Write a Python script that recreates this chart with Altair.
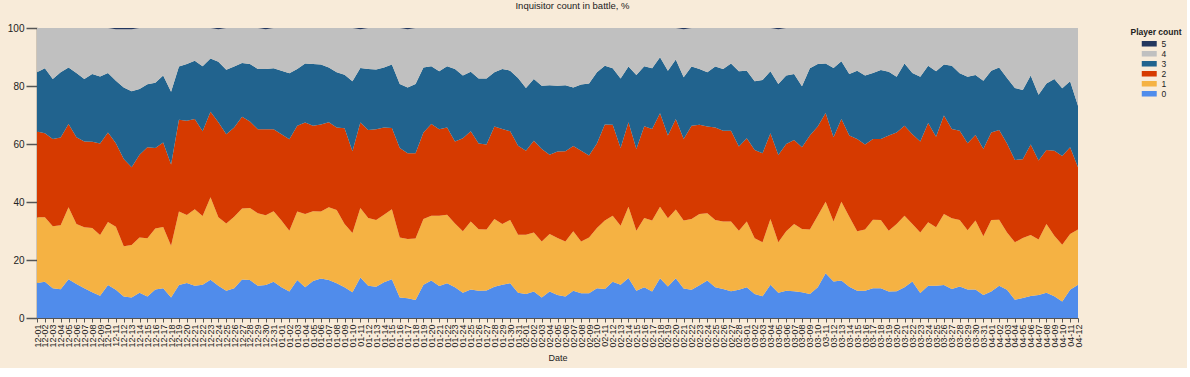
import altair as alt
import pandas as pd

# Dates (daily, Dec 1 – Apr 12)
dates = [d.strftime("%m-%d") for d in pd.date_range("2014-12-01", "2015-04-12", freq="D")]

# Cumulative upper edge (in %) of each stacked band
top_0 = [12.1, 12.5, 10.3, 9.9, 13.4, 11.7, 10.3, 8.9, 7.7, 11.4, 9.7, 7.4, 7.1, 8.7, 7.4, 9.8, 10.3, 7.1, 11.4, 12.1, 11.1, 11.5, 13.2, 11.1, 9.4, 10.3, 13.3,
         13.1, 11.1, 11.4, 12.5, 10.6, 9.1, 13.1, 10.6, 12.8, 13.6, 13.1, 12.0, 10.6, 8.9, 14.0, 11.1, 10.8, 12.3, 13.4, 7.1, 6.8, 6.2, 11.5, 12.9, 11.0, 12.0, 10.6,
         8.7, 9.8, 9.4, 9.5, 10.8, 11.5, 12.0, 8.7, 8.3, 9.1, 7.1, 9.1, 7.9, 7.4, 9.4, 8.5, 8.5, 10.3, 10.0, 12.5, 11.5, 13.8, 9.4, 10.6, 9.1, 13.7,
         10.9, 13.7, 10.2, 9.7, 11.3, 12.9, 10.6, 10.0, 9.2, 9.7, 10.6, 8.3, 7.5, 11.5, 8.7, 9.4, 9.2, 8.9, 8.3, 10.6, 15.4, 12.6, 12.9, 10.8, 9.4, 9.4,
         10.3, 10.3, 9.1, 9.2, 10.6, 12.6, 8.6, 11.1, 11.1, 11.4, 10.0, 10.9, 9.8, 9.8, 7.9, 9.1, 11.1, 9.7, 6.3, 6.9, 7.6, 7.9, 8.7, 7.5, 5.7, 9.7, 11.5]

top_1 = [34.7, 34.7, 31.6, 32.0, 38.2, 32.4, 31.3, 31.0, 28.6, 33.1, 31.5, 24.7, 25.2, 27.8, 27.5, 30.9, 31.4, 24.9, 36.7, 35.5, 37.5, 35.2, 41.6, 34.7, 32.6, 34.9, 37.8,
         37.9, 36.1, 35.4, 36.8, 33.6, 30.1, 36.7, 35.9, 36.8, 36.7, 38.2, 37.2, 32.4, 29.3, 37.9, 34.5, 33.8, 35.6, 37.5, 27.8, 27.2, 27.4, 34.1, 35.3, 35.3, 35.6, 32.6,
         29.9, 33.3, 30.6, 30.5, 34.1, 32.4, 33.8, 28.7, 28.7, 29.5, 26.4, 29.0, 27.6, 26.4, 29.9, 26.4, 27.8, 31.0, 33.6, 35.3, 31.8, 38.4, 30.1, 34.5, 33.6, 38.4,
         34.4, 37.4, 33.6, 34.1, 35.9, 36.1, 33.8, 33.3, 33.3, 30.1, 33.3, 27.5, 26.1, 34.1, 26.1, 29.9, 32.4, 30.7, 30.5, 35.3, 40.1, 33.3, 40.1, 34.9, 29.9, 30.5,
         33.9, 33.8, 30.1, 32.4, 35.3, 32.4, 29.5, 33.0, 31.3, 35.9, 34.4, 33.8, 30.3, 33.6, 28.2, 33.8, 33.9, 29.5, 26.1, 27.6, 28.6, 27.1, 32.4, 28.4, 25.3, 29.0, 30.5]

top_2 = [64.3, 63.7, 61.7, 62.2, 66.9, 62.3, 60.9, 60.8, 60.2, 64.0, 60.3, 54.8, 52.0, 56.3, 58.9, 58.6, 60.5, 52.9, 68.4, 68.0, 68.6, 64.4, 71.1, 67.5, 63.4, 65.7, 69.4,
         67.8, 65.1, 65.1, 65.1, 63.4, 61.6, 66.3, 67.4, 66.3, 66.7, 67.5, 65.7, 65.4, 57.5, 67.4, 64.8, 65.1, 65.7, 65.5, 58.6, 56.8, 56.8, 64.0, 66.9, 65.1, 65.7, 60.9,
         62.0, 64.4, 60.2, 59.8, 66.0, 65.2, 64.4, 59.4, 57.7, 61.1, 58.3, 56.3, 57.4, 57.5, 59.3, 57.7, 56.0, 60.2, 66.7, 66.6, 58.6, 67.5, 58.3, 66.1, 65.2, 70.6,
         62.9, 68.6, 61.7, 66.3, 66.6, 66.0, 65.7, 64.6, 64.6, 59.1, 62.0, 57.9, 56.8, 63.7, 56.2, 60.0, 61.4, 58.9, 62.9, 66.0, 70.7, 62.3, 68.6, 62.9, 61.7, 59.8,
         61.7, 61.7, 62.9, 64.0, 66.3, 63.4, 60.9, 67.2, 62.5, 69.8, 65.2, 64.6, 60.3, 63.1, 58.3, 64.0, 64.8, 60.2, 54.5, 54.7, 59.8, 54.3, 57.9, 57.7, 55.9, 58.9, 52.0]

top_3 = [84.7, 86.1, 82.4, 84.7, 86.4, 84.5, 82.4, 84.1, 83.3, 84.5, 81.8, 79.5, 78.2, 79.0, 80.6, 81.1, 83.6, 78.0, 86.7, 87.6, 88.7, 86.8, 89.5, 88.4, 85.6, 86.7, 87.9,
         87.6, 85.9, 85.9, 86.1, 85.3, 84.4, 85.9, 87.8, 87.6, 87.4, 86.4, 84.7, 83.9, 81.6, 86.2, 85.9, 85.7, 86.4, 87.4, 80.7, 79.5, 80.7, 86.4, 86.8, 85.1, 86.8, 85.9,
         83.6, 84.9, 82.6, 82.6, 84.7, 85.9, 85.3, 82.8, 79.3, 82.4, 80.1, 80.3, 80.1, 80.3, 79.5, 80.5, 80.9, 84.7, 87.0, 86.1, 82.6, 86.7, 83.8, 86.8, 86.1, 89.9,
         85.3, 89.1, 83.0, 86.7, 85.9, 84.7, 86.7, 85.9, 87.8, 85.1, 85.3, 81.6, 82.1, 85.1, 80.7, 83.6, 84.1, 79.9, 86.1, 87.6, 87.8, 86.2, 88.5, 84.1, 85.3, 83.6,
         84.5, 85.5, 84.9, 83.2, 87.8, 84.5, 83.2, 87.0, 85.1, 87.4, 87.0, 84.4, 83.2, 83.8, 81.8, 85.3, 86.4, 82.8, 79.3, 78.6, 83.6, 77.0, 80.9, 82.4, 79.2, 81.6, 73.2]

# Share (%) of battles with 5 players (thin band at the very top)
share_5 = [0.0] * len(dates)
for idx in [10, 11, 12, 23, 29, 41, 47, 82, 94]:
    share_5[idx] = 0.4

series_names = ["5", "4", "3", "2", "1", "0"]
series_colors = ["#23375F", "#C0C0C0", "#21638E", "#D63A00", "#F5B243", "#508CEB"]

rows = []
for i, d in enumerate(dates):
    edges = [0.0, top_0[i], top_1[i], top_2[i], top_3[i], 100.0 - share_5[i], 100.0]
    for k in range(6):
        rows.append({"date": d, "series": str(k), "lower": edges[k], "upper": edges[k + 1]})
df = pd.DataFrame(rows)

FONT = "Liberation Sans"

chart = alt.Chart(df).mark_area(opacity=1, interpolate="linear").encode(
    x=alt.X("date:O", sort=dates, scale=alt.Scale(padding=0),
            axis=alt.Axis(title="Date", labelAngle=270, labelFontSize=9, labelFont=FONT,
                          labelColor="#222222", tickSize=4, tickColor="#555555",
                          domainColor="#555555", labelPadding=2, titleFontSize=9,
                          titleFont=FONT, titleFontWeight="normal", titlePadding=6,
                          titleColor="#222222", labelOverlap=False, labelBaseline="middle")),
    y=alt.Y("lower:Q", stack=None, scale=alt.Scale(domain=[0, 100], nice=False),
            axis=alt.Axis(title=None, values=[0, 20, 40, 60, 80, 100], grid=False,
                          tickSize=11, tickColor="#555555", domainColor="#555555",
                          labelFontSize=10, labelFont=FONT, labelColor="#222222",
                          labelPadding=2, tickWidth=1.5, domainWidth=1.5)),
    y2="upper:Q",
    color=alt.Color("series:N",
                    scale=alt.Scale(domain=series_names, range=series_colors),
                    sort=series_names,
                    legend=alt.Legend(title="Player count", orient="none", legendX=1093, legendY=0,
                                      titleFontSize=8.5, titleFont=FONT, titleFontWeight="bold",
                                      titleColor="#222222", labelFontSize=8.5, labelFont=FONT,
                                      labelColor="#222222", symbolType="M-2,-0.74H2V0.74H-2Z",
                                      symbolSize=56, symbolStrokeWidth=0, symbolOpacity=1,
                                      labelOffset=8, rowPadding=1, titlePadding=3,
                                      titleAnchor="middle")),
).properties(
    width=1041,
    height=290,
    title=alt.TitleParams("Inquisitor count in battle, %", fontSize=9.5, font=FONT,
                          fontWeight="normal", color="#222222", offset=13, dx=15),
    padding={"left": 7, "top": 0, "right": 5, "bottom": 5},
).configure(
    background="#F8EBD9"
).configure_view(stroke=None)

chart.save("out.html", embed_options={"renderer": "svg", "actions": False})
